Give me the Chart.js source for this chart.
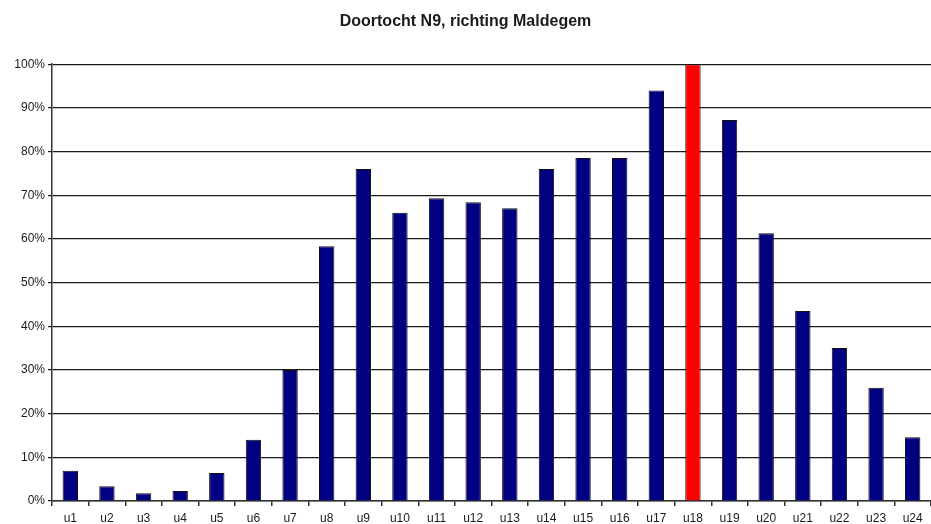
<!DOCTYPE html>
<html>
<head>
<meta charset="utf-8">
<script src="https://cdn.jsdelivr.net/npm/chart.js@4"></script>
<style>
  html, body { margin: 0; padding: 0; background: #fff; }
  #wrap { width: 931px; height: 524px; }
</style>
</head>
<body>
<div id="wrap"><canvas id="chart"></canvas></div>
<script>
const categories = ['u1','u2','u3','u4','u5','u6','u7','u8','u9','u10','u11','u12',
  'u13','u14','u15','u16','u17','u18','u19','u20','u21','u22','u23','u24']
const shares = [6.9, 3.4, 1.8, 2.3, 6.4, 14, 30, 58.3, 76, 66, 69.3, 68.4,
  67, 76, 78.5, 78.5, 94, 100, 87.2, 61.3, 43.5, 35, 25.9, 14.6]
const peakHour = 'u18'

const barColors = categories.map(c => c === peakHour ? '#ff0000' : '#000080')

const ctx = document.getElementById('chart').getContext('2d')
new Chart(ctx, {
  type: 'bar',
  data: {
    labels: categories,
    datasets: [{
      data: shares,
      backgroundColor: barColors,
      borderColor: '#111111',
      borderWidth: 1,
      categoryPercentage: 1,
      barPercentage: 0.42
    }]
  },
  options: {
    responsive: true,
    maintainAspectRatio: false,
    animation: false,
    layout: { padding: 0 },
    plugins: {
      legend: { display: false },
      tooltip: { enabled: false },
      title: {
        display: true,
        text: 'Doortocht N9, richting Maldegem',
        color: '#1a1a1a',
        font: { family: 'Liberation Sans, Arial, sans-serif', size: 16, weight: 'bold' },
        padding: { top: 12, bottom: 33 }
      }
    },
    scales: {
      x: {
        offset: true,
        afterFit: scale => { scale.height = 23 },
        grid: {
          offset: true,
          drawOnChartArea: false,
          tickLength: 5,
          lineWidth: 1.5,
          color: '#333333'
        },
        border: { color: '#333333', width: 1.5 },
        ticks: {
          color: '#1a1a1a',
          padding: 7,
          maxRotation: 0,
          autoSkip: false,
          font: { family: 'Liberation Sans, Arial, sans-serif', size: 12, lineHeight: 1 }
        }
      },
      y: {
        min: 0,
        max: 100,
        afterFit: scale => { scale.width = 52 },
        grid: {
          color: '#1a1a1a',
          lineWidth: 1.2,
          tickLength: 4
        },
        border: { color: '#333333', width: 1.5 },
        ticks: {
          stepSize: 10,
          color: '#1a1a1a',
          padding: 3,
          font: { family: 'Liberation Sans, Arial, sans-serif', size: 12 },
          callback: v => v + '%'
        }
      }
    }
  }
})
</script>
</body>
</html>
